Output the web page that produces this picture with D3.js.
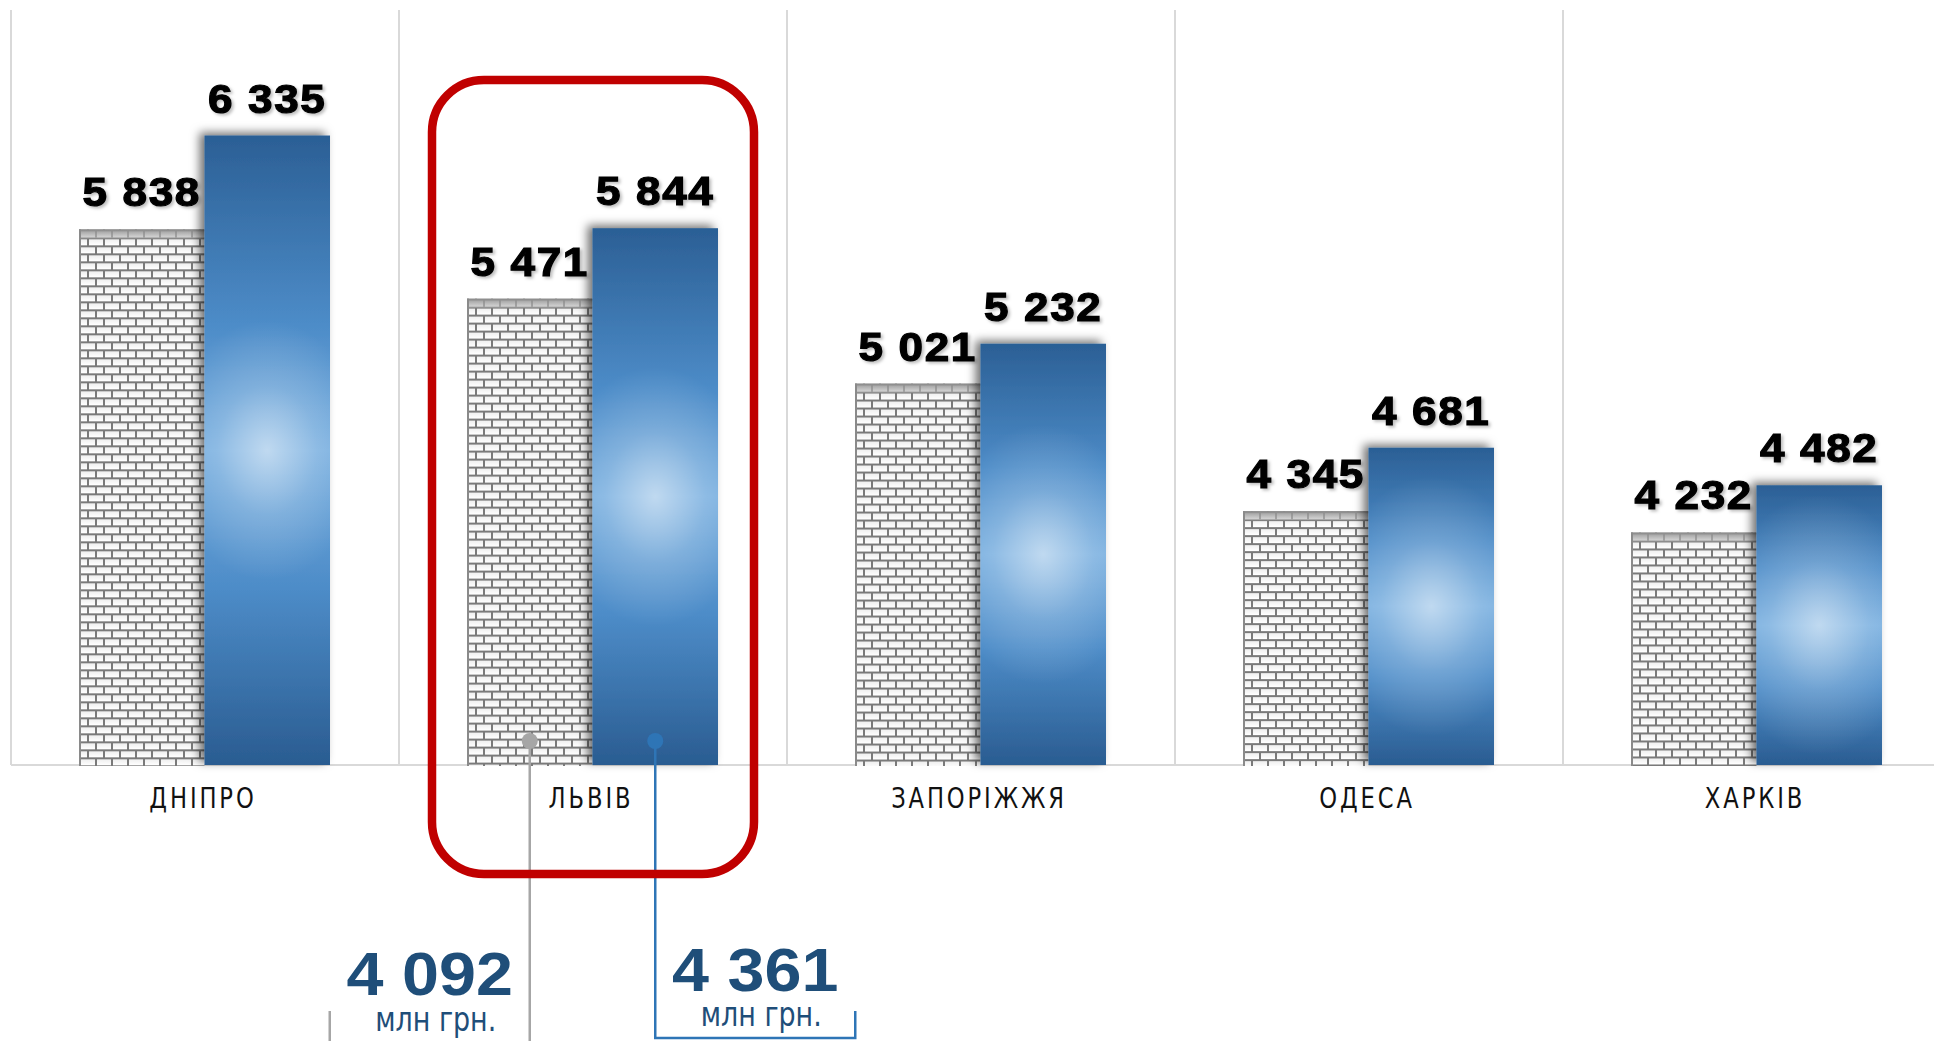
<!DOCTYPE html>
<html>
<head>
<meta charset="utf-8">
<script src="https://cdn.jsdelivr.net/npm/d3@7"></script>
<style>
  body { margin: 0; background: #fff; }
  svg { display: block; }
</style>
</head>
<body>
<script>
// chart data
const categories = ["ДНІПРО", "ЛЬВІВ", "ЗАПОРІЖЖЯ", "ОДЕСА", "ХАРКІВ"]
const prevValues = [5838, 5471, 5021, 4345, 4232]
const currValues = [6335, 5844, 5232, 4681, 4482]
const series = ["prev", "curr"]

// annotation under the highlighted city
const highlightCity = "ЛЬВІВ"
const highlightValues = [4092, 4361]
const highlightUnit = "млн грн."

const W = 1934, H = 1041
const baseY = 765

const fmt = d3.formatLocale({ thousands: "\u00a0", grouping: [3], decimal: ",", currency: ["", ""] }).format(",d")

const svg = d3.select("body").append("svg")
  .attr("width", W)
  .attr("height", H)

const x0 = d3.scaleBand()
  .domain(categories)
  .range([11, 11 + 388 * categories.length])
  .paddingInner(0)
  .paddingOuter(0)

const x1 = d3.scaleBand()
  .domain(series)
  .range([68, 319])

const y = d3.scaleLinear()
  .domain([3000, 7000])
  .range([baseY, 10])

const defs = svg.append("defs")

// brick pattern
const brick = defs.append("pattern")
  .attr("id", "brick")
  .attr("patternUnits", "userSpaceOnUse")
  .attr("width", 16)
  .attr("height", 16)
brick.append("rect").attr("width", 16).attr("height", 16).attr("fill", "#7a7a7a")
const brickRects = [[2, 2, 14, 6], [0, 10, 8, 6], [10, 10, 6, 6]]
brick.selectAll("rect.b")
  .data(brickRects)
  .enter().append("rect")
  .attr("class", "b")
  .attr("x", d => d[0]).attr("y", d => d[1])
  .attr("width", d => d[2]).attr("height", d => d[3])
  .attr("fill", "url(#brickFace)")

const face = defs.append("linearGradient")
  .attr("id", "brickFace")
  .attr("x1", 0).attr("y1", 0).attr("x2", 0).attr("y2", 1)
face.append("stop").attr("offset", 0).attr("stop-color", "#efefef")
face.append("stop").attr("offset", 1).attr("stop-color", "#ffffff")

const cap = defs.append("linearGradient")
  .attr("id", "brickCap")
  .attr("x1", 0).attr("y1", 0).attr("x2", 0).attr("y2", 1)
cap.append("stop").attr("offset", 0).attr("stop-color", "#8c8c8c").attr("stop-opacity", 0.9)
cap.append("stop").attr("offset", 1).attr("stop-color", "#bfbfbf").attr("stop-opacity", 0.6)

// blue bar base gradient
const blueLin = defs.append("linearGradient")
  .attr("id", "blueLin")
  .attr("x1", 0).attr("y1", 0).attr("x2", 0).attr("y2", 1)
blueLin.append("stop").attr("offset", 0).attr("stop-color", "#2b5f95")
blueLin.append("stop").attr("offset", 0.3).attr("stop-color", "#4d8cc8")
blueLin.append("stop").attr("offset", 0.5).attr("stop-color", "#72abde")
blueLin.append("stop").attr("offset", 0.72).attr("stop-color", "#4d8cc8")
blueLin.append("stop").attr("offset", 1).attr("stop-color", "#2a5c91")

const filt = defs.append("filter")
  .attr("id", "barShadow")
  .attr("x", "-30%").attr("y", "-10%")
  .attr("width", "150%").attr("height", "120%")
filt.append("feDropShadow")
  .attr("dx", -5).attr("dy", -3)
  .attr("stdDeviation", 5)
  .attr("flood-color", "#000")
  .attr("flood-opacity", 0.55)

const tFilt = defs.append("filter")
  .attr("id", "textShadow")
  .attr("x", "-10%").attr("y", "-20%")
  .attr("width", "130%").attr("height", "150%")
tFilt.append("feDropShadow")
  .attr("dx", 2).attr("dy", 2)
  .attr("stdDeviation", 1.5)
  .attr("flood-color", "#000")
  .attr("flood-opacity", 0.25)

// grid
const grid = svg.append("g").attr("class", "grid")
grid.selectAll("line.v")
  .data(categories)
  .enter().append("line")
  .attr("class", "v")
  .attr("x1", d => x0(d)).attr("x2", d => x0(d))
  .attr("y1", y(7000)).attr("y2", baseY)
  .attr("stroke", "#d9d9d9")
  .attr("stroke-width", 2)
grid.append("line")
  .attr("x1", x0.range()[0]).attr("x2", W)
  .attr("y1", baseY).attr("y2", baseY)
  .attr("stroke", "#d9d9d9")
  .attr("stroke-width", 2)

// city groups
const city = svg.append("g")
  .selectAll("g.city")
  .data(categories.map((c, i) => ({ name: c, prev: prevValues[i], curr: currValues[i] })))
  .enter().append("g")
  .attr("class", "city")
  .attr("transform", d => `translate(${x0(d.name)},0)`)

// brick bars (previous year)
const prevBar = city.append("g")
  .attr("transform", d => `translate(${x1("prev")},${y(d.prev)})`)
prevBar.append("rect")
  .attr("width", x1.bandwidth())
  .attr("height", d => baseY - y(d.prev) + 1)
  .attr("fill", "url(#brick)")
prevBar.append("rect")
  .attr("width", x1.bandwidth())
  .attr("height", 9)
  .attr("fill", "url(#brickCap)")
prevBar.append("rect")
  .attr("width", 2)
  .attr("height", d => baseY - y(d.prev) + 1)
  .attr("fill", "#8a8a8a")

// blue bars (current year)
const currBar = city.append("g")
  .attr("filter", "url(#barShadow)")
currBar.append("rect")
  .attr("x", x1("curr"))
  .attr("y", d => y(d.curr))
  .attr("width", x1.bandwidth())
  .attr("height", d => baseY - y(d.curr))
  .attr("fill", "url(#blueLin)")

// light spot in each blue bar
city.each(function (d, i) {
  const cx = x1("curr") + x1.bandwidth() / 2
  const cy = (y(d.curr) + baseY) / 2
  const g = defs.append("radialGradient")
    .attr("id", "glow" + i)
    .attr("gradientUnits", "userSpaceOnUse")
    .attr("cx", cx).attr("cy", cy).attr("r", 100)
    .attr("gradientTransform", `translate(${cx},${cy}) scale(1,1.3) translate(${-cx},${-cy})`)
  g.append("stop").attr("offset", 0).attr("stop-color", "#ffffff").attr("stop-opacity", 0.55)
  g.append("stop").attr("offset", 0.5).attr("stop-color", "#ffffff").attr("stop-opacity", 0.2)
  g.append("stop").attr("offset", 1).attr("stop-color", "#ffffff").attr("stop-opacity", 0)
  d3.select(this).append("rect")
    .attr("x", x1("curr"))
    .attr("y", y(d.curr))
    .attr("width", x1.bandwidth())
    .attr("height", baseY - y(d.curr))
    .attr("fill", `url(#glow${i})`)
})

// value labels
function valueLabel(sel, key) {
  sel.append("g")
    .attr("transform", d => `translate(${x1(key) + x1.bandwidth() / 2},${y(d[key]) - 23}) scale(1.1,1)`)
    .append("text")
    .attr("text-anchor", "middle")
    .attr("font-family", "'Liberation Sans', Arial, sans-serif")
    .attr("font-weight", 700)
    .attr("font-size", 40)
    .attr("letter-spacing", 1.5)
    .attr("fill", "#000")
    .attr("stroke", "#000")
    .attr("stroke-width", 1.2)
    .attr("filter", "url(#textShadow)")
    .text(d => fmt(d[key]))
}
valueLabel(city, "prev")
valueLabel(city, "curr")

// category labels
city.append("g")
  .attr("transform", `translate(${x0.bandwidth() / 2 - 2},${baseY + 43}) scale(0.9,1)`)
  .append("text")
  .attr("text-anchor", "middle")
  .attr("font-family", "'Liberation Sans Narrow', 'DejaVu Sans Condensed', sans-serif")
  .attr("font-size", 28)
  .attr("letter-spacing", 3.2)
  .attr("fill", "#111")
  .text(d => d.name)

// highlight annotation
const hx = x0(highlightCity)
const dotY = baseY - 24
const annot = [
  { key: "prev", value: highlightValues[0], color: "#a6a6a6", text: "#1f4e79", dir: -1, bottom: 1046 },
  { key: "curr", value: highlightValues[1], color: "#2e75b6", text: "#1f4e79", dir: 1, bottom: 1038 }
]

const ann = svg.append("g").attr("class", "annotation")
ann.selectAll("path")
  .data(annot)
  .enter().append("path")
  .attr("fill", "none")
  .attr("stroke", d => d.color)
  .attr("stroke-width", 2.5)
  .attr("d", d => {
    const lx = hx + x1(d.key) + x1.bandwidth() / 2
    const ex = lx + d.dir * 200
    return `M${lx},${dotY}V${d.bottom}H${ex}V1011`
  })
ann.selectAll("circle")
  .data(annot)
  .enter().append("circle")
  .attr("cx", d => hx + x1(d.key) + x1.bandwidth() / 2)
  .attr("cy", dotY)
  .attr("r", 8)
  .attr("fill", d => d.color)

const annText = ann.selectAll("g.t")
  .data(annot)
  .enter().append("g")
  .attr("class", "t")
  .attr("transform", d => {
    const lx = hx + x1(d.key) + x1.bandwidth() / 2
    return `translate(${lx + d.dir * 100 + 2},0)`
  })
annText.append("g")
  .attr("transform", (d, i) => `translate(-2,${i ? 991 : 995}) scale(1.09,1)`)
  .append("text")
  .attr("text-anchor", "middle")
  .attr("font-family", "'Liberation Sans', Arial, sans-serif")
  .attr("font-weight", 700)
  .attr("font-size", 61)
  .attr("fill", d => d.text)
  .text(d => fmt(d.value))
annText.append("g")
  .attr("transform", (d, i) => `translate(4,${i ? 1026 : 1031}) scale(0.88,1)`)
  .append("text")
  .attr("text-anchor", "middle")
  .attr("font-family", "'Liberation Sans Narrow', 'DejaVu Sans Condensed', sans-serif")
  .attr("font-size", 34)
  .attr("fill", d => d.text)
  .text(highlightUnit)

// red frame around highlighted city
svg.append("rect")
  .attr("x", hx + x0.bandwidth() / 2 - 161)
  .attr("y", 80)
  .attr("width", 322)
  .attr("height", 794)
  .attr("rx", 52)
  .attr("fill", "none")
  .attr("stroke", "#c00000")
  .attr("stroke-width", 8.5)
</script>
</body>
</html>
